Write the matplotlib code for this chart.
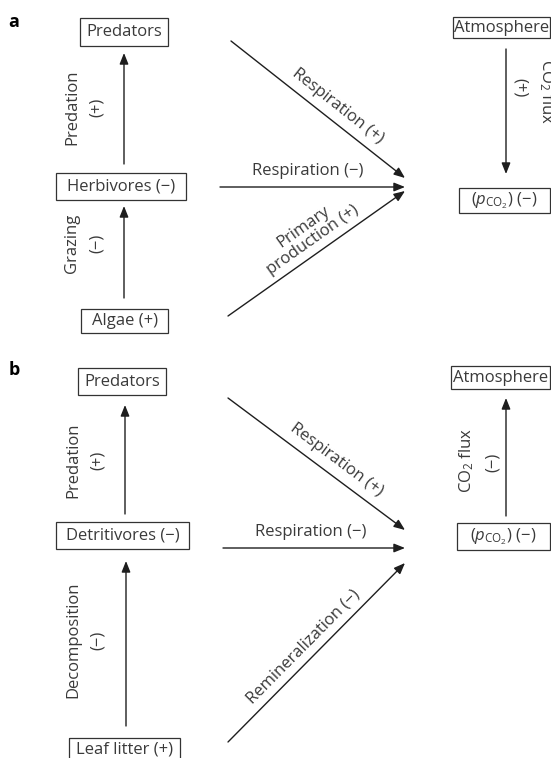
import numpy as np
import matplotlib
matplotlib.use('Agg')
import matplotlib.pyplot as plt
from matplotlib.patches import Rectangle

plt.rcParams['font.family'] = ['Open Sans', 'DejaVu Sans']
plt.rcParams['mathtext.fontset'] = 'custom'
plt.rcParams['mathtext.rm'] = 'Open Sans'
plt.rcParams['mathtext.it'] = 'Open Sans:italic'

TXT = '#3a3a3a'
LINE = '#1e1e1e'
FS = 12

# ----------------------------
# Labels
# ----------------------------
PCO2 = r'($p_{\mathrm{CO}_2}$) (−)'
nodes_a = ['Predators', 'Herbivores (−)', 'Algae (+)', 'Atmosphere', PCO2]
nodes_b = ['Predators', 'Detritivores (−)', 'Leaf litter (+)', 'Atmosphere', PCO2]

chain_a = [('Predation', '(+)'), ('Grazing', '(−)')]
chain_b = [('Predation', '(+)'), ('Decomposition', '(−)')]

co2_a = ('CO$_2$ flux', '(+)')
co2_b = ('CO$_2$ flux', '(−)')

fan_a = ['Respiration (+)', 'Respiration (−)', 'Primary\nproduction (+)']
fan_b = ['Respiration (+)', 'Respiration (−)', 'Remineralization (−)']

# ----------------------------
# Layout (pixel coordinates, y down)
# ----------------------------
boxes_a = [(80, 18, 168, 46), (56, 173, 186, 200), (81, 309, 168, 333),
           (453, 17, 550, 38), (459, 188, 550, 213)]
boxes_b = [(78, 368, 166, 395), (56, 522, 189, 549), (69, 738, 180, 762),
           (451, 366, 550, 389), (457, 523, 550, 550)]

chain_arrows_a = [((124, 164), (124, 53)), ((124, 298), (124, 206))]
chain_arrows_b = [((125, 514), (125, 405)), ((126, 726), (126, 561))]
chain_pos_a = [(72, 97, 107), (72, 97, 243)]
chain_pos_b = [(73, 98, 460), (73, 98, 640)]

fan_arrows_a = [((231, 41), (405, 178)), ((220, 187), (405, 187)), ((228, 316), (405, 191))]
fan_arrows_b = [((228, 398), (405, 530)), ((223, 548), (405, 548)), ((228, 742), (405, 563))]

co2_arrow_a = ((506, 49), (506, 174))
co2_arrow_b = ((506, 516), (506, 398))


fig = plt.figure(figsize=(5.51, 7.58), dpi=100)
ax = fig.add_axes([0, 0, 1, 1])
ax.set_xlim(0, 551)
ax.set_ylim(758, 0)
ax.axis('off')


def box(rect, label):
    x0, y0, x1, y1 = rect
    ax.add_patch(Rectangle((x0, y0), x1 - x0, y1 - y0, fill=False,
                           ec='#333333', lw=0.9))
    ax.text((x0 + x1) / 2, (y0 + y1) / 2, label, ha='center', va='center',
            fontsize=FS, color=TXT)


def arrow(p0, p1):
    ax.annotate('', xy=p1, xytext=p0,
                arrowprops=dict(arrowstyle='-|>,head_length=0.55,head_width=0.22',
                                color=LINE, lw=1.0, shrinkA=0, shrinkB=0,
                                mutation_scale=12))


def line_label(p0, p1, text, frac=0.55, offset=12):
    (x0, y0), (x1, y1) = p0, p1
    dx, dy = x1 - x0, y1 - y0
    L = np.hypot(dx, dy)
    nx, ny = dy / L, -dx / L
    cx = x0 + frac * dx + offset * nx
    cy = y0 + frac * dy + offset * ny
    ang = np.degrees(np.arctan2(-dy, dx))
    ax.text(cx, cy, text, rotation=ang, rotation_mode='anchor',
            ha='center', va='center', multialignment='center',
            fontsize=FS, color=TXT, linespacing=1.0)


def panel(letter, ly, boxes, nodes, chain, chain_arrows, chain_pos,
          fan, fan_arrows, co2, co2_arrow, co2_pos, co2_rot):
    ax.text(14, ly, letter, ha='center', va='center', fontsize=13,
            fontweight='bold', color='black')
    for rect, lab in zip(boxes, nodes):
        box(rect, lab)
    for (p0, p1) in chain_arrows:
        arrow(p0, p1)
    for (name, sign), (xa, xb, y) in zip(chain, chain_pos):
        ax.text(xa, y, name, rotation=90, ha='center', va='center',
                fontsize=FS, color=TXT)
        ax.text(xb, y, sign, rotation=90, ha='center', va='center',
                fontsize=FS, color=TXT)
    for (p0, p1) in fan_arrows:
        arrow(p0, p1)
    # diagonal and horizontal flux labels
    line_label(*fan_arrows[0], fan[0], frac=0.56, offset=15)
    ax.text(fan_arrows[1][0][0] + 88, fan_arrows[1][0][1] - 16, fan[1],
            ha='center', va='center', fontsize=FS, color=TXT)
    two_line = '\n' in fan[2]
    line_label(*fan_arrows[2], fan[2], frac=0.52 if two_line else 0.48,
               offset=21 if two_line else 13)
    arrow(*co2_arrow)
    (xa, ya), (xb, yb) = co2_pos
    ax.text(xa, ya, co2[0], rotation=co2_rot, ha='center', va='center',
            fontsize=FS, color=TXT)
    ax.text(xb, yb, co2[1], rotation=co2_rot, ha='center', va='center',
            fontsize=FS, color=TXT)


panel('a', 22, boxes_a, nodes_a, chain_a, chain_arrows_a, chain_pos_a,
      fan_a, fan_arrows_a, co2_a, co2_arrow_a, ((546, 92), (520, 88)), 270)
panel('b', 370, boxes_b, nodes_b, chain_b, chain_arrows_b, chain_pos_b,
      fan_b, fan_arrows_b, co2_b, co2_arrow_b, ((467, 460), (493, 462)), 90)

fig.savefig('out.png', dpi=100)
